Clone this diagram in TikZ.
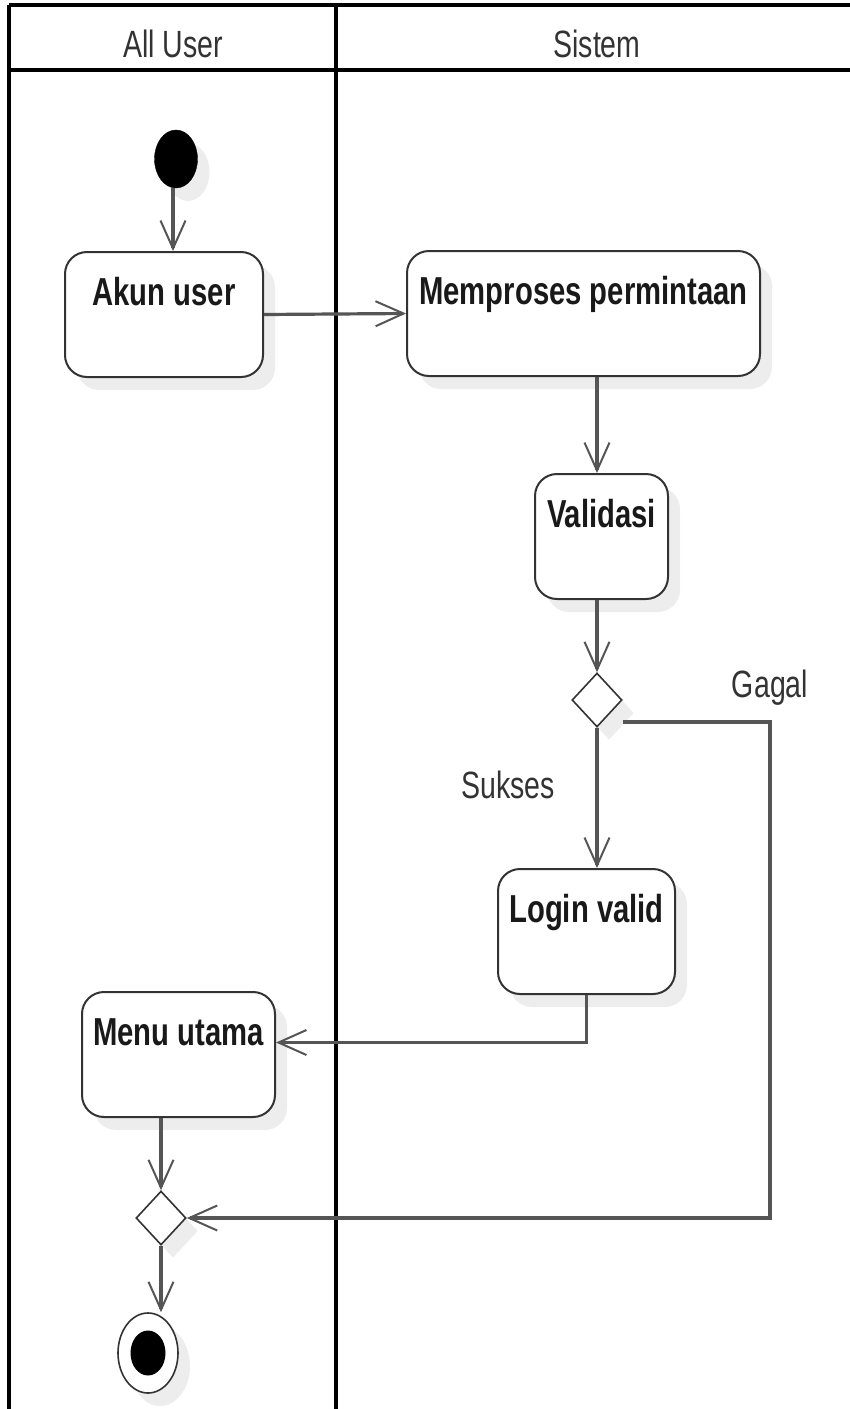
\documentclass[tikz,border=0pt]{standalone}
\usepackage{fontspec}
\setmainfont{Liberation Sans}[FakeStretch=0.75]
\usetikzlibrary{arrows.meta,shapes.geometric,shadows}

\definecolor{lineGray}{HTML}{555555}
\definecolor{boxEdge}{HTML}{333333}
\definecolor{labelGray}{HTML}{333333}

\tikzset{
  lanerule/.style={line width=4.5pt, black},
  softshadow/.style={drop shadow={shadow xshift=12pt, shadow yshift=-13pt, fill=black, opacity=0.07}},
  actbox/.style={draw=boxEdge, line width=2pt, fill=white, rounded corners=22pt,
    inner ysep=0pt, inner xsep=6pt, text height=53pt, text depth=72pt, anchor=base,
    font=\bfseries\fontsize{39}{45}\selectfont, text=black!90, softshadow},
  decision/.style={diamond, draw=boxEdge, line width=1.6pt, fill=white, inner sep=0pt,
    minimum width=50pt, minimum height=54pt, softshadow},
  startdot/.style={ellipse, fill=black, draw=black, inner sep=0pt,
    minimum width=43pt, minimum height=58pt, softshadow},
  enddot/.style={ellipse, draw=boxEdge, line width=1.6pt, fill=white, inner sep=0pt,
    minimum width=60pt, minimum height=80pt, softshadow},
  enddotcore/.style={ellipse, fill=black, inner sep=0pt, minimum width=35pt, minimum height=45pt},
  flow/.style={lineGray, line width=3.2pt,
    -{Straight Barb[length=28pt, width=25pt, line width=2pt]}},
  lanehead/.style={font=\fontsize{38}{44}\selectfont, text=labelGray, anchor=base},
  guard/.style={font=\fontsize{38}{44}\selectfont, text=labelGray},
}

\begin{document}
\begin{tikzpicture}[x=1pt, y=-1pt]
  % canvas
  \fill[white] (0,0) rectangle (850,1409);
  \useasboundingbox (0,0) rectangle (850,1409);

  % swimlanes
  \draw[lanerule] (9,5) -- (850,5);
  \draw[lanerule] (9,70) -- (850,70);
  \draw[lanerule] (9,5) -- (9,1409);
  \draw[lanerule] (336,5) -- (336,1409);
  \node[lanehead] (laneUser) at (173,57) {All User};
  \node[lanehead] (laneSys) at (597,57) {Sistem};

  % activities
  \node[startdot] (start) at (176,159) {};
  \node[actbox, minimum width=198pt] (akun) at (164,305) {Akun user};
  \node[actbox, minimum width=353pt] (proses) at (583.5,304) {Memproses permintaan};
  \node[actbox, minimum width=133pt] (validasi) at (601.5,527) {Validasi};
  \node[decision] (cek) at (597,700) {};
  \node[actbox, minimum width=177pt] (login) at (586.5,922) {Login valid};
  \node[actbox, minimum width=193pt] (menu) at (178.5,1045) {Menu utama};
  \node[decision] (gabung) at (161,1218) {};
  \node[enddot] (final) at (148,1353) {};
  \node[enddotcore] (finalcore) at (final.center) {};

  % guard labels
  \node[guard] (gagal) at (770,688) {Gagal};
  \node[guard] (sukses) at (508,785) {Sukses};

  % bend point of the failure path
  \coordinate (gagalBend) at (770,1218);

  % flows
  \draw[flow] (start.south -| 173,0) -- (akun.north -| 173,0);
  \draw[flow] (akun.east) -- (proses.west);
  \draw[flow] (proses.south -| cek.north) -- (validasi.north -| cek.north);
  \draw[flow] (validasi.south -| cek.north) -- (cek.north);
  \draw[flow] (cek.south) -- (cek.south |- login.north);
  \draw[flow] (login.south) |- ([yshift=12pt]menu.east);
  \draw[flow] ([yshift=-22pt]cek.east) -| (gagalBend) -- (gabung.east);
  \draw[flow] (gabung.north |- menu.south) -- (gabung.north);
  \draw[flow] (gabung.south) -- (gabung.south |- final.north);
\end{tikzpicture}
\end{document}
